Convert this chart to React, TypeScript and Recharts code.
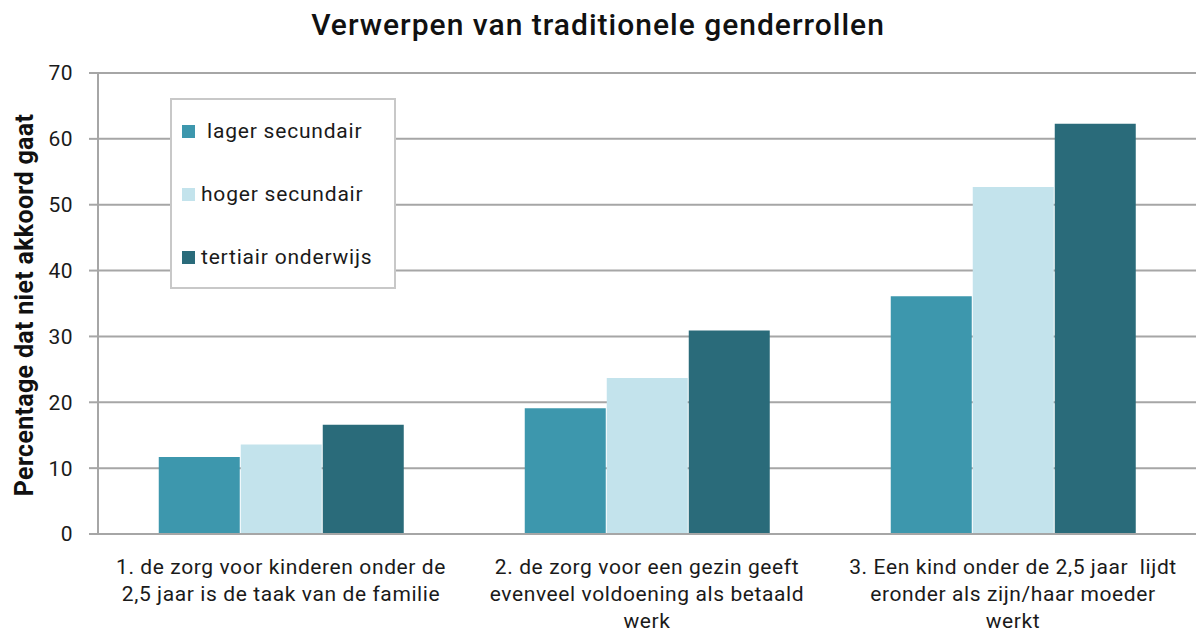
import React from "react";
import { BarChart, Bar, XAxis, YAxis, CartesianGrid } from "recharts";

const categories = [
  "1. de zorg voor kinderen onder de\n2,5 jaar is de taak van de familie",
  "2. de zorg voor een gezin geeft\nevenveel voldoening als betaald\nwerk",
  "3. Een kind onder de 2,5 jaar  lijdt\neronder als zijn/haar moeder\nwerkt",
];
const lagerSecundair = [11.7, 19.1, 36.1];
const hogerSecundair = [13.6, 23.7, 52.7];
const tertiairOnderwijs = [16.6, 30.9, 62.3];
const yTicks = [0, 10, 20, 30, 40, 50, 60, 70];

const seriesKeys = ["lager", "hoger", "tertiair"];
const seriesNames = [" lager secundair", "hoger secundair", "tertiair onderwijs"];
const seriesColors = ["#3D97AD", "#C3E3EC", "#2A6B7A"];

const data = categories.map((c, i) => ({
  name: c,
  lager: lagerSecundair[i],
  hoger: hogerSecundair[i],
  tertiair: tertiairOnderwijs[i],
}));

const FONT = "Roboto, 'Noto Sans', sans-serif";

const XTick = (props: any) => {
  const { x, y, payload } = props;
  const lines = String(payload.value).split("\n");
  return (
    <g transform={`translate(${x},${y})`}>
      {lines.map((l, i) => (
        <text
          key={i}
          x={0}
          y={32 + i * 27}
          textAnchor="middle"
          fontSize={21}
          fill="#1a1a1a"
          fontFamily={FONT}
          letterSpacing={0.6}
          style={{ whiteSpace: "pre" }}
        >
          {l}
        </text>
      ))}
    </g>
  );
};

export default function App() {
  return (
    <div
      style={{
        position: "absolute",
        left: 0,
        top: 0,
        width: 1196,
        height: 632,
        background: "#fff",
        fontFamily: FONT,
      }}
    >
      <BarChart
        width={1196}
        height={632}
        data={data}
        margin={{ top: 73, right: 0, bottom: 0, left: 0 }}
        barCategoryGap="16.6%"
        barGap={1}
        style={{ position: "absolute", left: 0, top: 0 }}
      >
        <CartesianGrid vertical={false} stroke="#A6A6A6" strokeWidth={2} />
        <XAxis
          dataKey="name"
          tick={<XTick />}
          tickLine={false}
          axisLine={{ stroke: "#A6A6A6", strokeWidth: 2 }}
          interval={0}
          height={98}
        />
        <YAxis
          domain={[0, 70]}
          ticks={yTicks}
          width={98}
          tickSize={9}
          tickMargin={16}
          tickLine={{ stroke: "#A6A6A6", strokeWidth: 2 }}
          axisLine={{ stroke: "#A6A6A6", strokeWidth: 2 }}
          tick={{ fontSize: 21, fill: "#1a1a1a", fontFamily: FONT, letterSpacing: 0.5 }}
        />
        {seriesKeys.map((k, i) => (
          <Bar
            key={k}
            dataKey={k}
            name={seriesNames[i]}
            fill={seriesColors[i]}
            isAnimationActive={false}
          />
        ))}
      </BarChart>
      <div
        style={{
          position: "absolute",
          left: 0,
          top: 7,
          width: 1196,
          textAlign: "center",
          fontSize: 30,
          fontWeight: 500,
          letterSpacing: 1,
          color: "#111",
        }}
      >
        Verwerpen van traditionele genderrollen
      </div>
      <div
        style={{
          position: "absolute",
          left: 24,
          top: 305,
          transform: "translate(-50%, -50%) rotate(-90deg)",
          whiteSpace: "nowrap",
          fontSize: 25,
          fontWeight: 700,
          letterSpacing: 0.3,
          color: "#111",
        }}
      >
        Percentage dat niet akkoord gaat
      </div>
      <div
        style={{
          position: "absolute",
          left: 170,
          top: 98,
          width: 226,
          height: 191,
          border: "2px solid #C8C8C8",
          background: "#fff",
          boxSizing: "border-box",
        }}
      >
        {seriesNames.map((n, i) => (
          <div
            key={n}
            style={{
              position: "absolute",
              left: 10,
              top: 19 + i * 63,
              display: "flex",
              alignItems: "center",
              fontSize: 21,
              letterSpacing: 0.8,
              color: "#1a1a1a",
              whiteSpace: "pre",
            }}
          >
            <span
              style={{
                display: "inline-block",
                width: 13,
                height: 13,
                background: seriesColors[i],
                marginRight: 6,
              }}
            />
            <span>{n}</span>
          </div>
        ))}
      </div>
    </div>
  );
}
